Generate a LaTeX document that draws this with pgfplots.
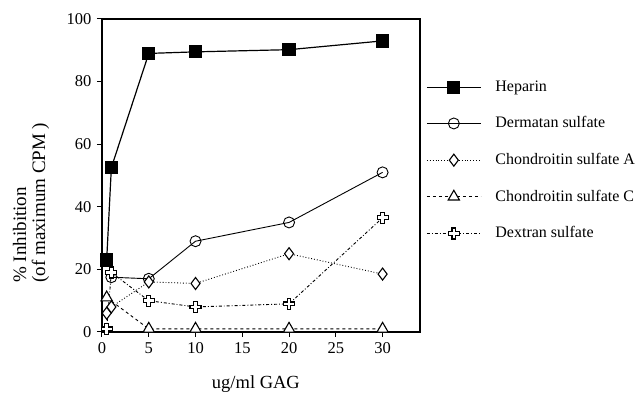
\documentclass[border=0pt]{standalone}
\usepackage{fontspec}
\setmainfont{Liberation Serif}
\usepackage{pgfplots}
\pgfplotsset{compat=1.18}
\pgfdeclareplotmark{hcross}{%
  \pgfpathmoveto{\pgfqpoint{-0.33\pgfplotmarksize}{\pgfplotmarksize}}%
  \pgfpathlineto{\pgfqpoint{0.33\pgfplotmarksize}{\pgfplotmarksize}}%
  \pgfpathlineto{\pgfqpoint{0.33\pgfplotmarksize}{0.33\pgfplotmarksize}}%
  \pgfpathlineto{\pgfqpoint{\pgfplotmarksize}{0.33\pgfplotmarksize}}%
  \pgfpathlineto{\pgfqpoint{\pgfplotmarksize}{-0.33\pgfplotmarksize}}%
  \pgfpathlineto{\pgfqpoint{0.33\pgfplotmarksize}{-0.33\pgfplotmarksize}}%
  \pgfpathlineto{\pgfqpoint{0.33\pgfplotmarksize}{-\pgfplotmarksize}}%
  \pgfpathlineto{\pgfqpoint{-0.33\pgfplotmarksize}{-\pgfplotmarksize}}%
  \pgfpathlineto{\pgfqpoint{-0.33\pgfplotmarksize}{-0.33\pgfplotmarksize}}%
  \pgfpathlineto{\pgfqpoint{-\pgfplotmarksize}{-0.33\pgfplotmarksize}}%
  \pgfpathlineto{\pgfqpoint{-\pgfplotmarksize}{0.33\pgfplotmarksize}}%
  \pgfpathlineto{\pgfqpoint{-0.33\pgfplotmarksize}{0.33\pgfplotmarksize}}%
  \pgfpathclose
  \pgfusepathqfillstroke
}
\begin{document}
\fontsize{16}{19}\selectfont
\begin{tikzpicture}
\useasboundingbox (0,0) rectangle (638pt,395pt);
\begin{axis}[
  at={(102pt,63pt)}, anchor=south west,
  scale only axis, width=318pt, height=313pt,
  xmin=0, xmax=34, ymin=0, ymax=100,
  xtick={0,5,10,15,20,25,30}, ytick={0,20,40,60,80,100},
  tick align=outside, tick pos=left,
  major tick length=5pt,
  axis line style={line width=1.1pt},
  tick style={line width=1pt, black},
  /pgf/number format/assume math mode=true,
  ticklabel style={font=\fontsize{16.5}{19}\selectfont},
  xlabel={ug/ml GAG},
  ylabel={\% Inhibition\\(of maximum CPM )},
  every axis x label/.style={at={(axis description cs:0.484,-0.166)}, anchor=center, font=\fontsize{18.5}{20}\selectfont},
  every axis y label/.style={at={(axis description cs:-0.223,0.14)}, anchor=west, rotate=90, align=left, font=\fontsize{19}{19}\selectfont},
  legend style={at={(axis description cs:1.019,0.548)}, anchor=west, draw=none, fill=none,
    font=\fontsize{16}{18}\selectfont, row sep=19pt, inner sep=0pt, cells={anchor=west}},
  legend cell align=left,
  legend image code/.code={\draw[mark repeat=2,mark phase=2] plot coordinates {(0pt,0pt) (27pt,0pt) (54pt,0pt)};},
  /tikz/every odd column/.append style={column sep=12pt},
  clip=false,
]
\addplot[black, line width=1.2pt, mark=square*, mark size=6pt, mark options={solid}] coordinates {
(0.5,23) (1,52.5) (5,89) (10,89.5) (20,90.2) (30,93)};
\addlegendentry{Heparin}
\addplot[black, line width=0.9pt, mark=o, mark size=5.5pt, mark options={solid, fill=white}] coordinates {
(1,17.5) (5,17) (10,29) (20,35) (30,51)};
\addlegendentry{Dermatan sulfate}
\addplot[black, line width=0.9pt, dotted, mark=diamond*, mark size=6pt, mark options={solid, fill=white, line width=1.1pt}] coordinates {
(0.5,6) (1,8) (5,16) (10,15.5) (20,25) (30,18.5)};
\addlegendentry{Chondroitin sulfate A}
\addplot[black, line width=0.9pt, dashed, mark=triangle*, mark size=6.5pt, mark options={solid, fill=white, line width=1.1pt}] coordinates {
(0.5,11) (5,1) (10,1) (20,1) (30,1)};
\addlegendentry{Chondroitin sulfate C}
\addplot[black, line width=0.9pt, dash dot, mark=hcross, mark size=5.5pt, mark options={solid, fill=white, line width=1.1pt}] coordinates {
(0.5,1) (1,19) (5,10) (10,8) (20,9) (30,36.5)};
\addlegendentry{Dextran sulfate}
\end{axis}
\end{tikzpicture}
\end{document}
